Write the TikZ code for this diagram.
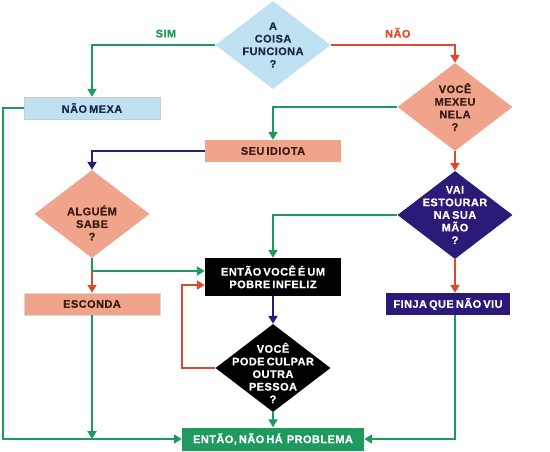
\documentclass[tikz,border=0pt]{standalone}
\usepackage{fontspec}
\setmainfont{Liberation Sans}[LetterSpace=4, WordSpace=0.6, BoldFeatures={FakeBold=0.6}]
\usetikzlibrary{shapes.geometric,arrows.meta}

\definecolor{azul}{HTML}{BFE1F2}
\definecolor{salmao}{HTML}{F0A48C}
\definecolor{anil}{HTML}{2C1A78}
\definecolor{verde}{HTML}{1E9A5E}
\definecolor{vermelho}{HTML}{DC4A2C}
\definecolor{escuro}{HTML}{3A1C12}
\definecolor{tinta}{HTML}{1C2A4A}

\tikzset{
    txt/.style={font=\bfseries\fontsize{11}{12.6}\selectfont, align=center},
    decision/.style={diamond, inner sep=0pt, minimum width=115pt, minimum height=88pt},
    caixa/.style={rectangle, inner sep=0pt, minimum width=136pt, minimum height=22pt, txt},
    seta/.style={line width=2.3pt, -{Triangle[length=8pt,width=9pt]}},
}

\begin{document}
\begin{tikzpicture}[x=1pt,y=-1pt]
        \useasboundingbox (0,0) rectangle (550,451);
        \node[decision, fill=azul, label={[txt, text=tinta]center:A\\COISA\\FUNCIONA\\?}] (d1) at (273,45) {};
        \node[decision, fill=salmao, label={[txt, text=escuro]center:VOCÊ\\MEXEU\\NELA\\?}] (d2) at (455,107) {};
        \node[decision, fill=salmao, label={[txt, text=escuro, yshift=-9pt]center:ALGUÉM\\SABE\\?}] (d3) at (92,214) {};
        \node[decision, fill=anil, label={[txt, text=white]center:VAI\\ESTOURAR\\NA SUA\\MÃO\\?}] (d4) at (455,215) {};
        \node[decision, fill=black, label={[txt, text=white, yshift=-5pt]center:VOCÊ\\PODE CULPAR\\OUTRA\\PESSOA\\?}] (d5) at (273,368) {};
        \node[caixa, fill=azul, draw=black!20, text=tinta] (b1) at (92,108) {NÃO MEXA};
        \node[caixa, fill=salmao, text=escuro] (b2) at (273,151) {SEU IDIOTA};
        \node[caixa, fill=black, text=white, minimum height=38pt] (b3) at (273,277) {ENTÃO VOCÊ É UM\\POBRE INFELIZ};
        \node[caixa, fill=salmao, draw=black!15, text=escuro] (b4) at (92,304) {ESCONDA};
        \node[caixa, fill=anil, text=white, minimum width=124pt] (b5) at (448,304) {FINJA QUE NÃO VIU};
        \node[caixa, fill=verde, text=white, minimum width=182pt, minimum height=23pt] (b6) at (273,439) {ENTÃO, NÃO HÁ\ \ PROBLEMA};

        \draw[seta, verde] (d1.west) -| node[pos=.2, above=3pt, txt] (sim) {SIM} (b1.north);
        \draw[seta, vermelho, line width=2pt] (d1.east) -| node[pos=.27, above=3pt, txt] (nao) {NÃO} (d2.north);
        \draw[seta, verde] (d2.west) -| (b2.north);
        \draw[seta, anil, line width=2pt] (b2.west) -| (d3.north);
        \draw[seta, vermelho, line width=2pt] (d2.south) -- (d4.north);
        \draw[seta, verde] (d4.west) -| (b3.north);
        \draw[seta, vermelho, line width=2pt] (d3.south) -- (b4.north);
        \draw[seta, verde] (d3.south) |- ([yshift=6pt]b3.west);
        \draw[seta, vermelho, line width=2pt] (d4.south) -- (d4.south |- b5.north);
        \draw[seta, anil, line width=2pt] (b3.south) -- (d5.north);
        \draw[seta, vermelho, line width=2pt] (d5.west) -- (d5.west -| b6.west) |- ([yshift=-8pt]b3.west);
        \draw[seta, verde] (d5.south) -- (b6.north);
        \draw[seta, verde] (b1.west) -- ++(-21,0) |- (b6.west);
        \draw[seta, verde] (b4.south) -- (b4.south |- b6.west);
        \draw[seta, verde] (d4.south |- b5.south) |- (b6.east);
    \end{tikzpicture}
\end{document}
